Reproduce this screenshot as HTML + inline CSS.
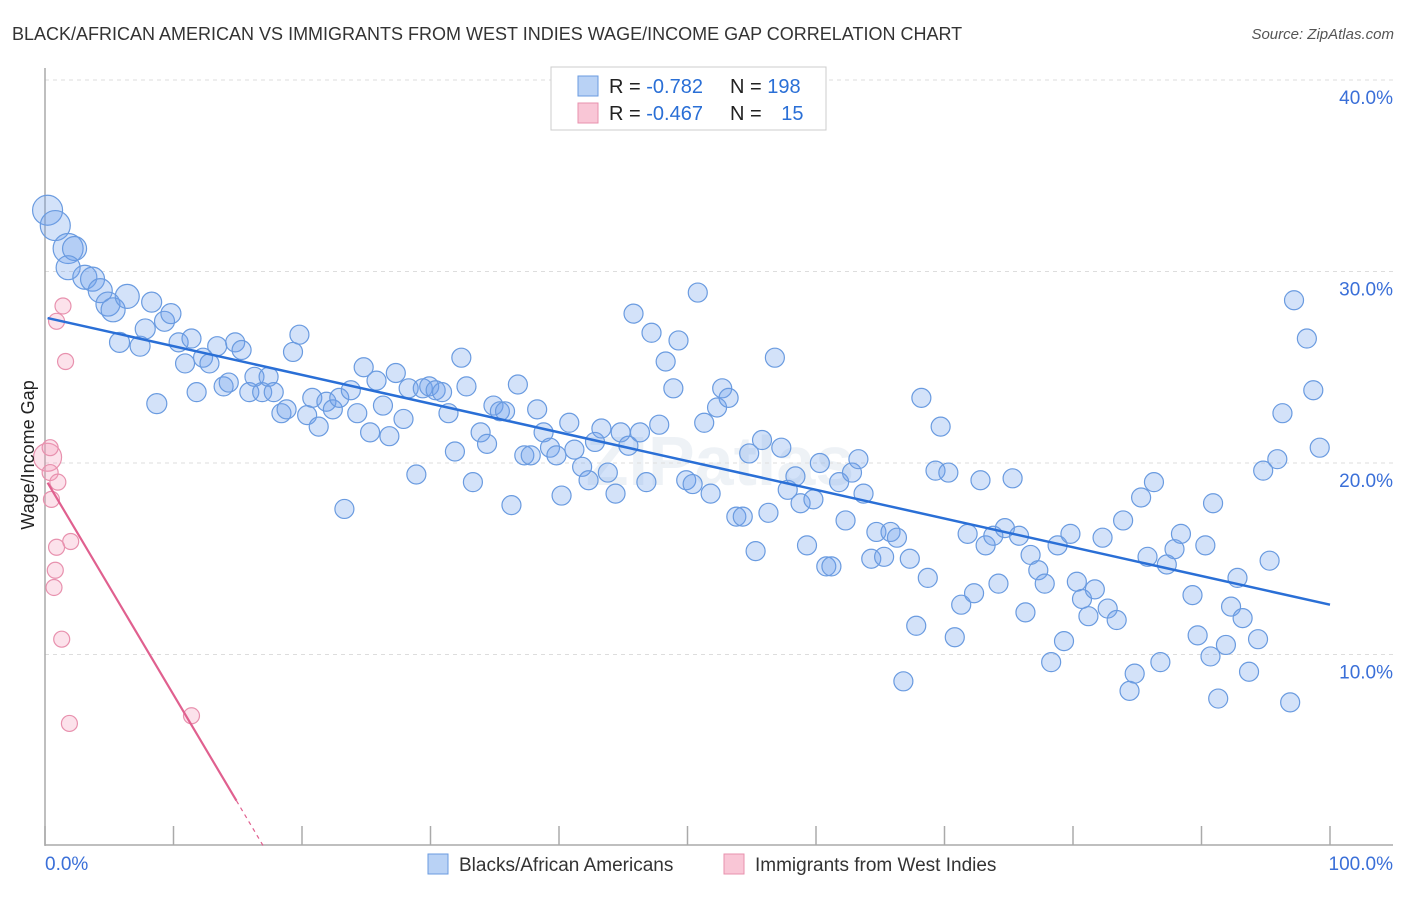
<!DOCTYPE html>
<html><head><meta charset="utf-8"><style>
body{margin:0;background:#fff;font-family:"Liberation Sans",sans-serif}
svg text{font-family:"Liberation Sans",sans-serif}
</style></head><body>
<svg id="chart" width="1406" height="892">
<text x="12" y="40" font-size="18" fill="#333">BLACK/AFRICAN AMERICAN VS IMMIGRANTS FROM WEST INDIES WAGE/INCOME GAP CORRELATION CHART</text>
<text x="1394" y="39" font-size="15" fill="#555" font-style="italic" text-anchor="end">Source: ZipAtlas.com</text>
<text x="720" y="485" font-size="70" fill="#dfe6ef" text-anchor="middle" font-weight="bold" opacity="0.5">ZIPatlas</text>
<g id="grid"></g><g id="pts"></g><g id="trend"></g>
<text transform="translate(34,455) rotate(-90)" font-size="18" fill="#222" text-anchor="middle">Wage/Income Gap</text>
<text x="45" y="870" font-size="19" fill="#3a6fd8">0.0%</text>
<text x="1393" y="870" font-size="19" fill="#3a6fd8" text-anchor="end">100.0%</text>
<g>
<rect x="551" y="67" width="275" height="63" fill="#fff" stroke="#ccc"/>
<rect x="578" y="76" width="20" height="20" fill="#b9d2f5" stroke="#6a9be0"/>
<rect x="578" y="103" width="20" height="20" fill="#f9c6d6" stroke="#e891ae"/>
<text x="609" y="93" font-size="20" fill="#222">R = <tspan fill="#2a6fd6">-0.782</tspan></text>
<text x="730" y="93" font-size="20" fill="#222">N = <tspan fill="#2a6fd6">198</tspan></text>
<text x="609" y="120" font-size="20" fill="#222">R = <tspan fill="#2a6fd6">-0.467</tspan></text>
<text x="730" y="120" font-size="20" fill="#222">N = <tspan fill="#2a6fd6" dx="14">15</tspan></text>
</g>
<g>
<rect x="428" y="854" width="20" height="20" fill="#b9d2f5" stroke="#6a9be0"/>
<text x="459" y="871" font-size="19" fill="#333">Blacks/African Americans</text>
<rect x="724" y="854" width="20" height="20" fill="#f9c6d6" stroke="#e891ae"/>
<text x="755" y="871" font-size="19" fill="#333">Immigrants from West Indies</text>
</g>
</svg>
<script>
const yTicks=[10,20,30,40];
const yTickLabels=["10.0%","20.0%","30.0%","40.0%"];
const xTicks=[0,10,20,30,40,50,60,70,80,90,100];
const blueX=[0.2,0.8,1.8,2.3,1.8,3.1,3.7,4.3,4.9,5.3,6.4,5.8,7.4,7.8,8.3,9.3,9.8,8.7,10.4,10.9,11.4,11.8,12.3,12.8,13.4,13.9,14.3,14.8,15.3,15.9,16.3,16.9,17.4,17.8,18.4,18.8,19.3,19.8,20.4,20.8,21.3,21.9,22.4,22.9,23.3,23.8,24.3,24.8,25.3,25.8,26.3,26.8,27.3,27.9,28.3,28.9,29.4,29.9,30.4,30.9,31.4,31.9,32.4,32.8,33.3,33.9,34.4,34.9,35.4,35.8,36.3,36.8,37.3,37.8,38.3,38.8,39.3,39.8,40.2,40.8,41.2,41.8,42.3,42.8,43.3,43.8,44.4,44.8,45.4,45.8,46.3,46.8,47.2,47.8,48.3,48.9,49.3,49.9,50.4,50.8,51.3,51.8,52.3,52.7,53.2,53.8,54.3,54.8,55.3,55.8,56.3,56.8,57.3,57.8,58.4,58.8,59.3,59.8,60.3,60.8,61.2,61.8,62.3,62.8,63.3,63.7,64.3,64.7,65.3,65.8,66.3,66.8,67.3,67.8,68.2,68.7,69.3,69.7,70.3,70.8,71.3,71.8,72.3,72.8,73.2,73.8,74.2,74.7,75.3,75.8,76.3,76.7,77.3,77.8,78.3,78.8,79.3,79.8,80.3,80.7,81.2,81.7,82.3,82.7,83.4,83.9,84.4,84.8,85.3,85.8,86.3,86.8,87.3,87.9,88.4,89.3,89.7,90.3,90.7,90.9,91.3,91.9,92.3,92.8,93.2,93.7,94.4,94.8,95.3,95.9,96.3,96.9,97.2,98.2,98.7,99.2];
const blueY=[33.2,32.4,31.2,31.2,30.2,29.7,29.6,29.0,28.3,28.0,28.7,26.3,26.1,27.0,28.4,27.4,27.8,23.1,26.3,25.2,26.5,23.7,25.5,25.2,26.1,24.0,24.2,26.3,25.9,23.7,24.5,23.7,24.5,23.7,22.6,22.8,25.8,26.7,22.5,23.4,21.9,23.2,22.8,23.4,17.6,23.8,22.6,25.0,21.6,24.3,23.0,21.4,24.7,22.3,23.9,19.4,23.9,24.0,23.8,23.7,22.6,20.6,25.5,24.0,19.0,21.6,21.0,23.0,22.7,22.7,17.8,24.1,20.4,20.4,22.8,21.6,20.8,20.4,18.3,22.1,20.7,19.8,19.1,21.1,21.8,19.5,18.4,21.6,20.9,27.8,21.6,19.0,26.8,22.0,25.3,23.9,26.4,19.1,18.9,28.9,22.1,18.4,22.9,23.9,23.4,17.2,17.2,20.5,15.4,21.2,17.4,25.5,20.8,18.6,19.3,17.9,15.7,18.1,20.0,14.6,14.6,19.0,17.0,19.5,20.2,18.4,15.0,16.4,15.1,16.4,16.1,8.6,15.0,11.5,23.4,14.0,19.6,21.9,19.5,10.9,12.6,16.3,13.2,19.1,15.7,16.2,13.7,16.6,19.2,16.2,12.2,15.2,14.4,13.7,9.6,15.7,10.7,16.3,13.8,12.9,12.0,13.4,16.1,12.4,11.8,17.0,8.1,9.0,18.2,15.1,19.0,9.6,14.7,15.5,16.3,13.1,11.0,15.7,9.9,17.9,7.7,10.5,12.5,14.0,11.9,9.1,10.8,19.6,14.9,20.2,22.6,7.5,28.5,26.5,23.8,20.8];
const pinkX=[0.2,0.4,0.4,1.0,0.5,2.0,0.9,0.8,0.7,1.3,1.9,11.4,1.4,0.9,1.6];
const pinkY=[20.3,20.8,19.5,19.0,18.1,15.9,15.6,14.4,13.5,10.8,6.4,6.8,28.2,27.4,25.3];
const blueTrend=[27.6,12.6];     // y at x=0 and x=100
const pinkTrend=[19.2,-1.13];    // intercept, slope per %
const NS="http://www.w3.org/2000/svg";
const X=v=>45+v*12.85, Y=v=>846-v*19.15;
function mk(tag,attrs,parent){const e=document.createElementNS(NS,tag);for(const k in attrs)e.setAttribute(k,attrs[k]);document.getElementById(parent).appendChild(e);return e;}
yTicks.forEach((t,i)=>{
 const l=mk('line',{x1:45,x2:1393,y1:Y(t),y2:Y(t),stroke:'#ddd','stroke-dasharray':'4,4'},'grid');
 
 
 const tx=mk('text',{x:1393,y:Y(t)+24,'font-size':19,fill:'#3a6fd8','text-anchor':'end'},'grid');
 tx.textContent=yTickLabels[i];
 
 
});
mk('line',{x1:45,x2:1393,y1:Y(40)-2,y2:Y(40)-2,stroke:'#fff'},'grid');
const ax=mk('line',{x1:45,x2:45,y1:68,y2:846,stroke:'#aaa','stroke-width':1.5},'grid');


const bx=mk('line',{x1:45,x2:1393,y1:845,y2:845,stroke:'#aaa','stroke-width':1.5},'grid');


xTicks.forEach(t=>{
 const l=mk('line',{x1:X(t),x2:X(t),y1:826,y2:845,stroke:'#aaa','stroke-width':1.5},'grid');
 
 
});
blueX.forEach((x,i)=>{
 const r=i<3?15:(i<11?12:(i<18?10:9.5));
 const c=mk('circle',{cx:X(x),cy:Y(blueY[i]),r:r,fill:'rgba(110,160,235,0.3)',stroke:'#6a9be0','stroke-width':1.2},'pts');
 
 
});
pinkX.forEach((x,i)=>{
 const r=i===0?14:8;
 const c=mk('circle',{cx:X(x),cy:Y(pinkY[i]),r:r,fill:'rgba(245,160,190,0.3)',stroke:'#e891ae','stroke-width':1.2},'pts');
 
 
});
const bt=mk('line',{x1:X(0.2),y1:Y(blueTrend[0]+(blueTrend[1]-blueTrend[0])*0.002),x2:X(100),y2:Y(blueTrend[1]),stroke:'#2a6fd6','stroke-width':2.5},'trend');


const pe=14.9, pz=-pinkTrend[0]/pinkTrend[1];
const pt=mk('line',{x1:X(0.2),y1:Y(pinkTrend[0]+pinkTrend[1]*0.2),x2:X(pe),y2:Y(pinkTrend[0]+pinkTrend[1]*pe),stroke:'#e0608f','stroke-width':2.2},'trend');


const pd=mk('line',{x1:X(pe),y1:Y(pinkTrend[0]+pinkTrend[1]*pe),x2:X(pz),y2:Y(0),stroke:'#e0608f','stroke-width':1.2,'stroke-dasharray':'4,4'},'trend');


</script>
</body></html>
